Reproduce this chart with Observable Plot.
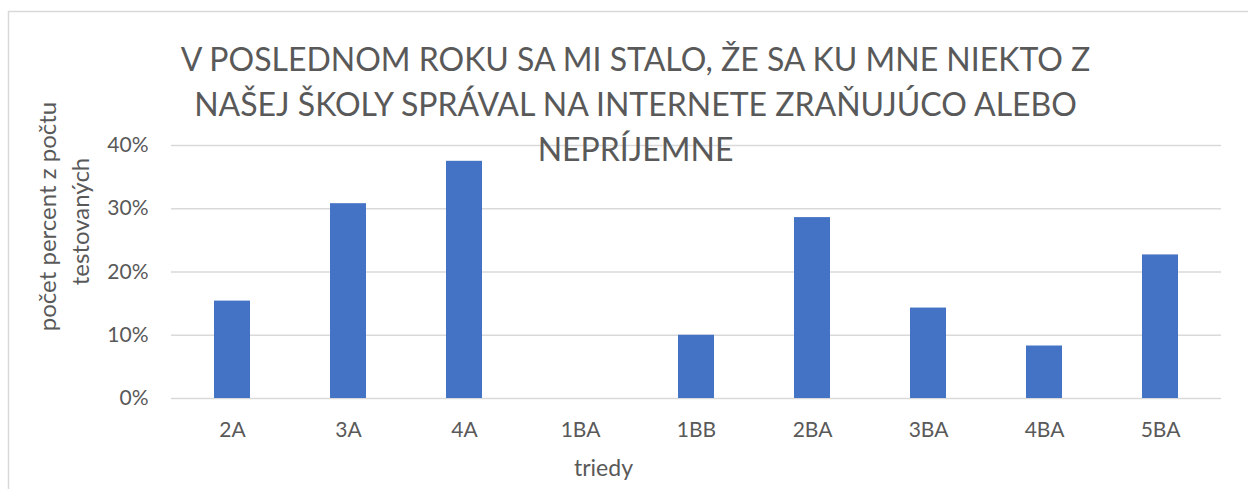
<!DOCTYPE html>
<html><head><meta charset="utf-8">
<script src="https://cdn.jsdelivr.net/npm/d3@7"></script>
<script src="https://cdn.jsdelivr.net/npm/@observablehq/plot@0.6"></script>
<style>html,body{margin:0;padding:0;background:#fff;overflow:hidden}</style>
</head><body><div id="chart"></div>
<script>
const classes = ["2A","3A","4A","1BA","1BB","2BA","3BA","4BA","5BA"];
const shares = [0.154,0.308,0.375,0,0.100,0.286,0.143,0.083,0.227];
const yTicks = [0,0.1,0.2,0.3,0.4];
const titleLines = ["V POSLEDNOM ROKU SA MI STALO, ŽE SA KU MNE NIEKTO Z","NAŠEJ ŠKOLY SPRÁVAL NA INTERNETE ZRAŇUJÚCO ALEBO","NEPRÍJEMNE"];
const xTitle = "triedy";
const yTitleLines = ["počet percent z počtu","testovaných"];

const data = classes.map((c,i)=>({trieda:c, podiel:shares[i]}));
const gray = "#595959";
const W = 1248, H = 489, mL = 171, mR = 27, mT = 145, mB = 91;
const plotMidY = mT + (H - mT - mB)/2;

const chart = Plot.plot({
  width: W, height: H,
  marginLeft: mL, marginRight: mR, marginTop: mT, marginBottom: mB,
  style: {fontFamily: "Lato, sans-serif", color: gray, background: "white", overflow: "visible"},
  x: {domain: classes, paddingInner: 0.69, paddingOuter: 0.345, label: null},
  y: {domain: [0, 0.4], label: null},
  marks: [
    Plot.gridY(yTicks, {stroke: "#d9d9d9", strokeOpacity: 1, strokeWidth: 1.5}),
    Plot.barY(data, {x: "trieda", y: "podiel", fill: "#4472C4"}),
    Plot.axisY(yTicks, {tickFormat: d3.format(".0%"), tickSize: 0, tickPadding: 23, fontSize: 21, fill: gray, label: null}),
    Plot.axisX({tickSize: 0, tickPadding: 24, fontSize: 21, fill: gray, label: null}),
    Plot.text([titleLines.join("\n")], {text: d => d, frameAnchor: "top-left", dx: 635 - mL, dy: 101 - mT,
      lineAnchor: "middle", textAnchor: "middle", fontSize: 32, lineHeight: 45/32, fill: gray}),
    Plot.text([xTitle], {text: d => d, frameAnchor: "top-left", dx: 603 - mL, dy: 468 - mT,
      lineAnchor: "middle", textAnchor: "middle", fontSize: 23, fill: gray}),
    Plot.text([yTitleLines[0]], {text: d => d, frameAnchor: "left", rotate: -90, dx: 48 - mL, dy: 216 - plotMidY,
      lineAnchor: "middle", textAnchor: "middle", fontSize: 24, fill: gray}),
    Plot.text([yTitleLines[1]], {text: d => d, frameAnchor: "left", rotate: -90, dx: 81 - mL, dy: 221 - plotMidY,
      lineAnchor: "middle", textAnchor: "middle", fontSize: 24, fill: gray})
  ]
});
d3.select(chart).insert("rect", ":first-child")
  .attr("x", 8.5).attr("y", 11.5).attr("width", 1400).attr("height", 700)
  .attr("fill", "none").attr("stroke", "#d9d9d9").attr("stroke-width", 1.5);
document.getElementById("chart").append(chart);
</script>
</body></html>
